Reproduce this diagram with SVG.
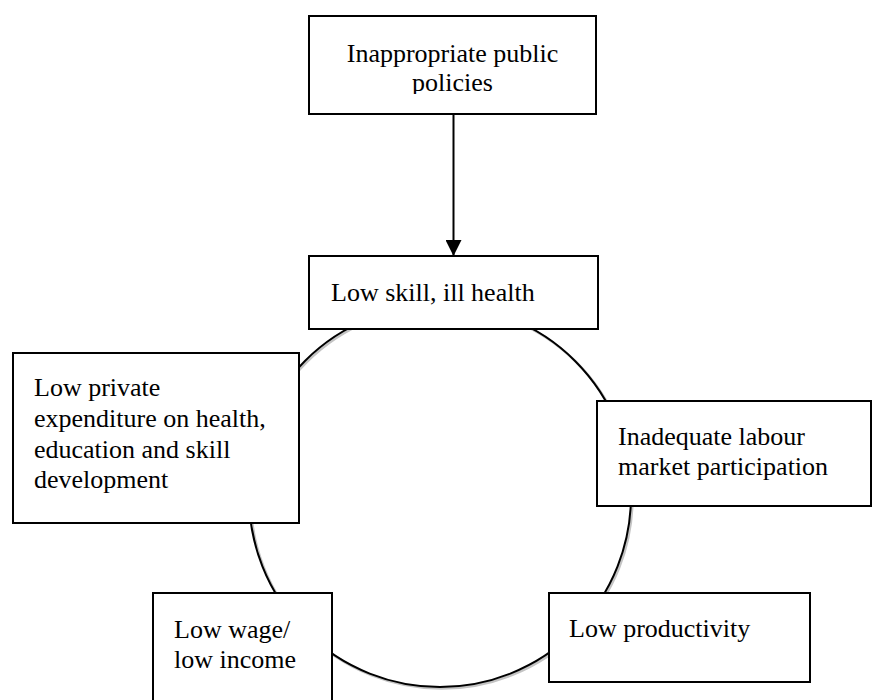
<svg xmlns="http://www.w3.org/2000/svg" width="872" height="700" viewBox="0 0 872 700">
  <style>
    .box { fill: #ffffff; stroke: #000000; stroke-width: 2; }
    .label { font-family: "Liberation Serif", "Times New Roman", serif; font-size: 26px; fill: #000000; }
    .ring { fill: none; stroke: #000000; stroke-width: 2; }
    .ring-shadow { fill: none; stroke: #c4c4c4; stroke-width: 2.5; }
    .link { stroke: #000000; stroke-width: 2; fill: none; }
  </style>
  <defs>
    <marker id="arrowhead" markerWidth="8" markerHeight="8" refX="8" refY="4" orient="auto" markerUnits="strokeWidth">
      <path d="M0,0 L8,4 L0,8 Z" fill="#000000"/>
    </marker>
    <clipPath id="top-clip">
      <rect x="309" y="16" width="287" height="78"/>
    </clipPath>
  </defs>

  <rect width="872" height="700" fill="#ffffff"/>

  <!-- connectors: the vicious cycle ring and the policy arrow -->
  <g id="connectors">
    <circle class="ring-shadow" cx="441.5" cy="497.5" r="191"/>
    <circle class="ring" cx="440" cy="496" r="191"/>
    <line class="link" x1="453.5" y1="114" x2="453.5" y2="256" marker-end="url(#arrowhead)"/>
  </g>

  <g id="node-policies">
    <rect class="box" x="309" y="16" width="287" height="98"/>
    <g clip-path="url(#top-clip)">
      <text class="label" x="452.5" y="62" text-anchor="middle">Inappropriate public</text>
      <text class="label" x="452.5" y="91" text-anchor="middle">policies</text>
    </g>
  </g>

  <g id="node-skill">
    <rect class="box" x="309" y="256" width="289" height="73"/>
    <text class="label" x="331" y="301">Low skill, ill health</text>
  </g>

  <g id="node-expenditure">
    <rect class="box" x="13" y="353" width="286" height="170"/>
    <text class="label" x="34" y="396">Low private</text>
    <text class="label" x="34" y="427">expenditure on health,</text>
    <text class="label" x="34" y="458">education and skill</text>
    <text class="label" x="34" y="488">development</text>
  </g>

  <g id="node-participation">
    <rect class="box" x="597" y="401" width="274" height="105"/>
    <text class="label" x="618" y="445">Inadequate labour</text>
    <text class="label" x="618" y="475">market participation</text>
  </g>

  <g id="node-income">
    <rect class="box" x="153" y="593" width="179" height="115"/>
    <text class="label" x="174" y="638">Low wage/</text>
    <text class="label" x="174" y="668">low income</text>
  </g>

  <g id="node-productivity">
    <rect class="box" x="549" y="593" width="261" height="89"/>
    <text class="label" x="569" y="637">Low productivity</text>
  </g>
</svg>
